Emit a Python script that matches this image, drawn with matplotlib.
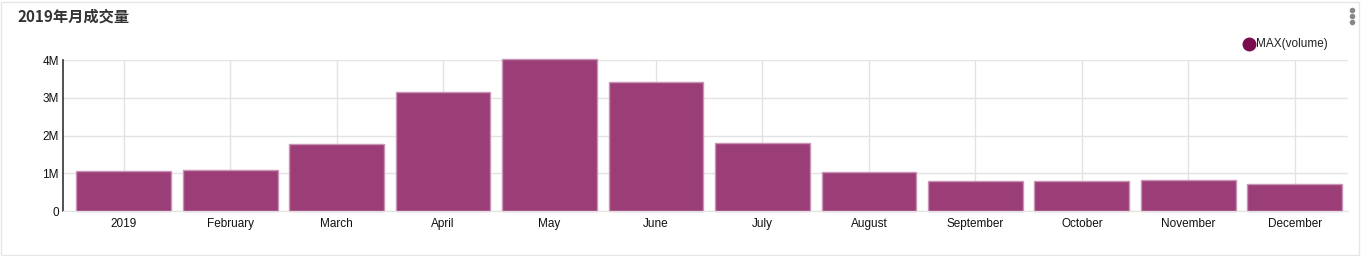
import matplotlib
matplotlib.use("Agg")
import matplotlib.pyplot as plt
from matplotlib.patches import Rectangle

plt.rcParams['font.family'] = ['Liberation Sans', 'Noto Sans CJK SC', 'DejaVu Sans']

categories = ["2019", "February", "March", "April", "May", "June", "July",
              "August", "September", "October", "November", "December"]
volume = [1.06e6, 1.09e6, 1.77e6, 3.15e6, 4.02e6, 3.42e6, 1.80e6,
          1.03e6, 0.79e6, 0.80e6, 0.82e6, 0.72e6]
yticks = [0, 1e6, 2e6, 3e6, 4e6]
yticklabels = ["0", "1M", "2M", "3M", "4M"]
title = "2019年月成交量"
legend_label = "MAX(volume)"

W, H = 1361, 256
fig = plt.figure(figsize=(W / 100, H / 100), dpi=100)
fig.patch.set_facecolor("white")

# card border
fig.patches.append(Rectangle((1 / W, 1 / H), (W - 3) / W, (H - 3) / H,
                             transform=fig.transFigure, fill=False,
                             edgecolor="#e6e6e6", lw=1))

ax = fig.add_axes([63 / W, 45 / H, (1348 - 63) / W, (211 - 60) / H])
x = list(range(len(categories)))
ax.bar(x, volume, width=0.89, color="#9b3e78", edgecolor="#c993b5",
       linewidth=1.0, zorder=2, clip_on=False)
ax.set_xlim(-0.57, len(categories) - 1 + 0.5)
ax.set_ylim(0, 4e6)
ax.set_yticks(yticks)
ax.set_yticklabels(yticklabels)
ax.set_xticks(x)
ax.set_xticklabels(categories)
ax.grid(True, color="#e3e3e3", lw=1, zorder=0)
ax.set_axisbelow(True)
for s in ["top", "right"]:
    ax.spines[s].set_visible(False)
ax.spines["left"].set_color("#333333")
ax.spines["left"].set_linewidth(1.2)
ax.spines["bottom"].set_color("#e3e3e3")
ax.tick_params(axis="both", length=0, labelsize=8.5, colors="#111111")
ax.tick_params(axis="y", pad=3)
ax.tick_params(axis="x", pad=5)

fig.text(17 / W, 1 - 17 / H, title, fontsize=11, fontweight="bold",
         color="#333333", va="center", ha="left",
         family=['Noto Sans CJK SC', 'DejaVu Sans'])

# legend
fig.lines.append(plt.Line2D([1249 / W], [1 - 44 / H], marker="o",
                            markersize=9, color="#7a0b4e", ls="none",
                            transform=fig.transFigure))
fig.text(1256 / W, 1 - 44 / H, legend_label, fontsize=8.5, color="#222222",
         va="center", ha="left")

# menu dots
for yy in (10, 16, 22):
    fig.lines.append(plt.Line2D([1352 / W], [1 - yy / H], marker="o",
                                markersize=3, color="#888888", ls="none",
                                transform=fig.transFigure))

fig.savefig("out.png", dpi=100)
